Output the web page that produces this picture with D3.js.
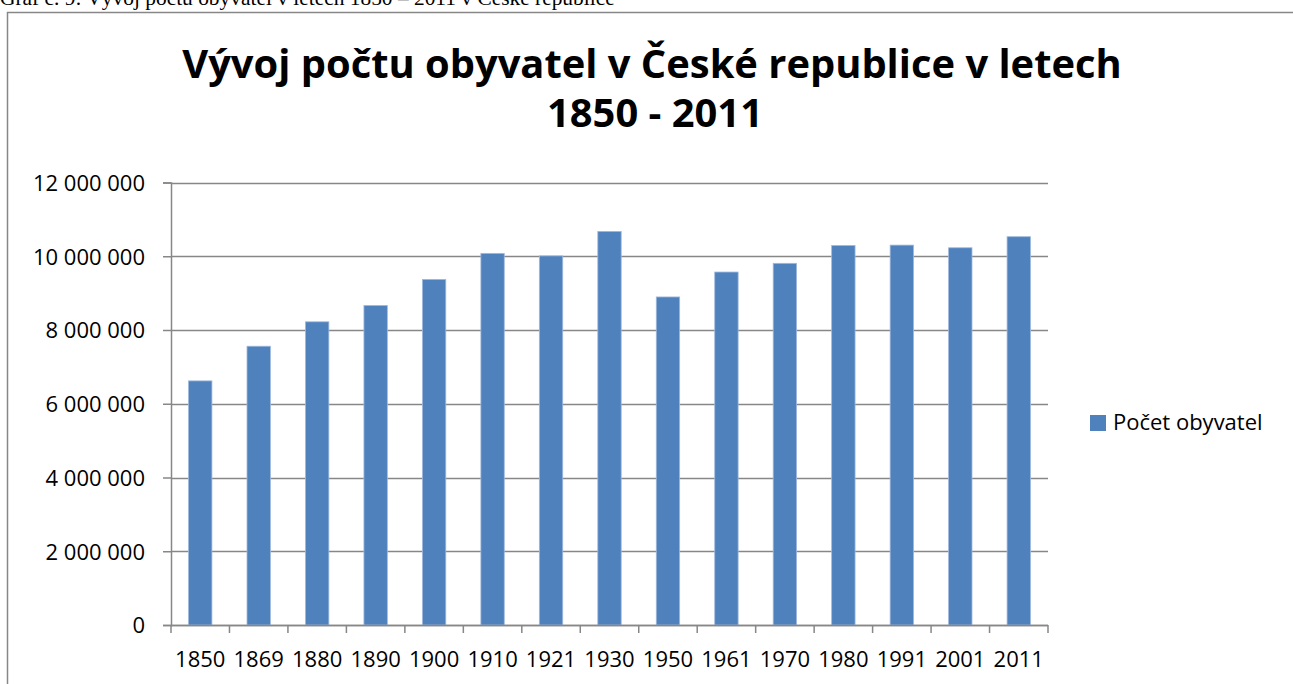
<!DOCTYPE html>
<html>
<head>
<meta charset="utf-8">
<script src="https://cdn.jsdelivr.net/npm/d3@7"></script>
<style>
  body { margin: 0; background: #fff; }
  svg { display: block; }
  text { font-family: "Open Sans", sans-serif; fill: #000; }
</style>
</head>
<body>
<svg id="chart" width="1293" height="684"></svg>
<script>
// data
var years = ["1850", "1869", "1880", "1890", "1900", "1910", "1921", "1930",
             "1950", "1961", "1970", "1980", "1991", "2001", "2011"];
var population = [6620000, 7560000, 8222000, 8665000, 9372000, 10078000, 10010000, 10674000,
                  8896000, 9572000, 9808000, 10292000, 10302000, 10230000, 10530000];
var yTicks = [0, 2000000, 4000000, 6000000, 8000000, 10000000, 12000000];
var seriesName = "Počet obyvatel";
var caption = "Graf č. 9: Vývoj počtu obyvatel v letech 1850 – 2011 v České republice";
var titleLines = ["Vývoj počtu obyvatel v České republice v letech", "1850 - 2011"];

var svg = d3.select("#chart");
var plotLeft = 171, plotRight = 1048, plotTop = 182.5, plotBottom = 625;
var gridColor = "#878787";
var barColor = "#4f81bd";

var fmt = d3.formatLocale({ decimal: ",", thousands: " ", grouping: [3], currency: ["", ""] }).format(",d");

// caption above the frame (cut off at the top in the original)
var cap = svg.append("text")
    .attr("x", 0).attr("y", 5)
    .style("font-family", "'Liberation Serif', 'Times New Roman', serif")
    .style("font-size", "22px")
    .text(caption);
var capW = cap.node().getComputedTextLength();
cap.style("font-size", (22 * 615 / capW) + "px");

// chart frame
svg.append("rect")
    .attr("x", 7.5).attr("y", 12.5)
    .attr("width", 1300).attr("height", 700)
    .attr("fill", "none")
    .attr("stroke", gridColor)
    .attr("stroke-width", 1.5);

// title
var title = svg.append("g");
var t1 = title.append("text")
    .attr("x", 652).attr("y", 78)
    .attr("text-anchor", "middle")
    .style("font-weight", "bold")
    .style("font-size", "38px")
    .text(titleLines[0]);
var tw = t1.node().getComputedTextLength();
var titleSize = 38 * 940 / tw;
t1.style("font-size", titleSize + "px");
title.append("text")
    .attr("x", 655).attr("y", 127)
    .attr("text-anchor", "middle")
    .style("font-weight", "bold")
    .style("font-size", titleSize + "px")
    .text(titleLines[1]);

var x = d3.scaleBand()
    .domain(years)
    .range([plotLeft, plotRight])
    .paddingInner(0.6)
    .paddingOuter(0.3);

var y = d3.scaleLinear()
    .domain([0, 12000000])
    .range([plotBottom, plotTop]);

// horizontal grid lines
svg.append("g")
    .selectAll("line")
    .data(yTicks)
    .enter().append("line")
    .attr("x1", plotLeft).attr("x2", plotRight)
    .attr("y1", function (d) { return Math.round(y(d)) + 0.5; })
    .attr("y2", function (d) { return Math.round(y(d)) + 0.5; })
    .attr("stroke", gridColor)
    .attr("stroke-width", 1.5);

// y axis
var yAxis = svg.append("g")
    .attr("transform", "translate(" + plotLeft + ",0)")
    .call(d3.axisLeft(y).tickValues(yTicks).tickSize(8).tickPadding(18).tickFormat(fmt));
yAxis.select(".domain").attr("stroke", gridColor).attr("stroke-width", 1.5);
yAxis.selectAll(".tick line").attr("stroke", gridColor).attr("stroke-width", 1.5);
yAxis.selectAll(".tick text")
    .style("font-family", "'Open Sans', sans-serif")
    .style("font-size", "22px")
    .attr("fill", "#000")
    .attr("dy", "0.36em");

// bars
svg.append("g")
    .selectAll("rect")
    .data(population)
    .enter().append("rect")
    .attr("x", function (d, i) { return x(years[i]); })
    .attr("y", function (d) { return y(d); })
    .attr("width", x.bandwidth())
    .attr("height", function (d) { return plotBottom - y(d); })
    .attr("fill", barColor)
    .attr("stroke", "#9fb9dc")
    .attr("stroke-width", 0.8);

// x axis: ticks between categories
var step = x.step();
var xb = svg.append("g");
xb.append("line")
    .attr("x1", plotLeft).attr("x2", plotRight)
    .attr("y1", plotBottom + 0.5).attr("y2", plotBottom + 0.5)
    .attr("stroke", gridColor).attr("stroke-width", 1.5);
xb.selectAll("line.tk")
    .data(d3.range(years.length + 1))
    .enter().append("line")
    .attr("class", "tk")
    .attr("x1", function (i) { return plotLeft + i * step; })
    .attr("x2", function (i) { return plotLeft + i * step; })
    .attr("y1", plotBottom).attr("y2", plotBottom + 8)
    .attr("stroke", gridColor).attr("stroke-width", 1.5);
xb.selectAll("text")
    .data(years)
    .enter().append("text")
    .attr("x", function (d) { return x(d) + x.bandwidth() / 2; })
    .attr("y", 667)
    .attr("text-anchor", "middle")
    .style("font-size", "22px")
    .text(function (d) { return d; });

// legend
var legend = svg.append("g");
legend.append("rect")
    .attr("x", 1090).attr("y", 415)
    .attr("width", 16).attr("height", 16)
    .attr("fill", barColor);
legend.append("text")
    .attr("x", 1113).attr("y", 430)
    .style("font-size", "22px")
    .text(seriesName);
</script>
</body>
</html>
